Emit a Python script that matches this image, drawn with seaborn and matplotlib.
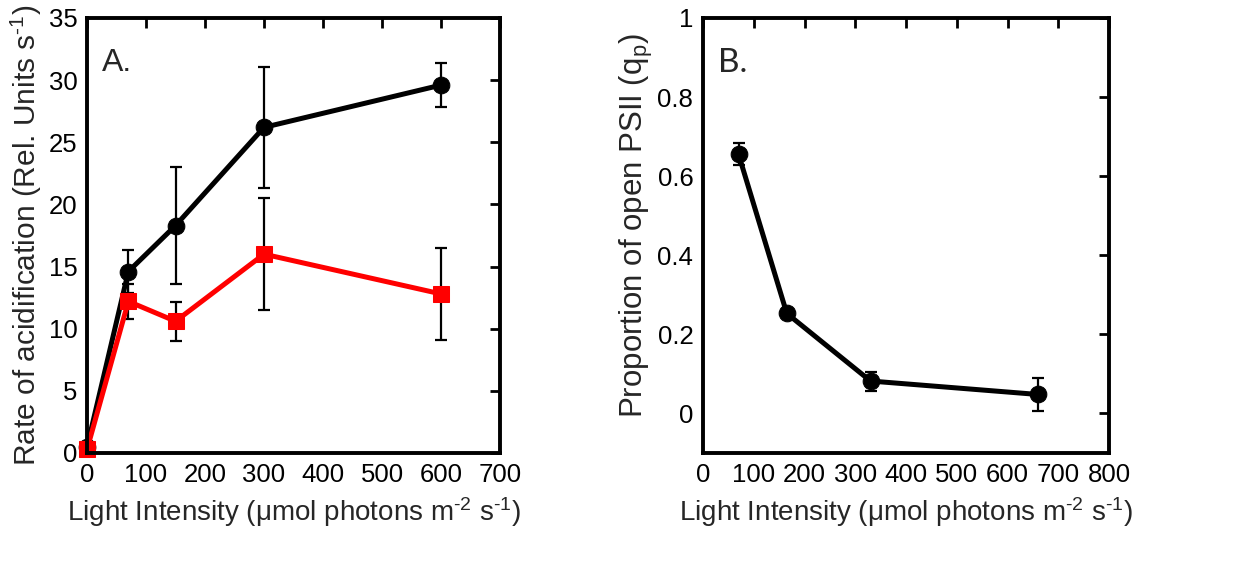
import numpy as np
import pandas as pd
import seaborn as sns
import matplotlib
matplotlib.use("Agg")
import matplotlib.pyplot as plt

# Panel A data
a_x = [0, 70, 150, 300, 600]
a_black = [0.5, 14.6, 18.3, 26.2, 29.6]
a_black_err = [0.0, 1.7, 4.7, 4.85, 1.75]
a_red = [0.3, 12.2, 10.6, 16.0, 12.8]
a_red_err = [0.0, 1.4, 1.55, 4.5, 3.7]

# Panel B data
b_x = [70, 165, 330, 660]
b_y = [0.655, 0.253, 0.082, 0.048]
b_err = [0.028, 0.010, 0.024, 0.041]

sns.set_theme(style="white")
plt.rcParams['font.family'] = ['Liberation Sans', 'DejaVu Sans']
plt.rcParams['mathtext.fontset'] = 'custom'
plt.rcParams['mathtext.rm'] = 'Liberation Sans'
plt.rcParams['mathtext.it'] = 'Liberation Sans'
plt.rcParams['mathtext.sf'] = 'Liberation Sans'

fig = plt.figure(figsize=(12.49, 5.88), dpi=100)
axA = fig.add_axes([0.0697, 0.2296, 0.3306, 0.7398])
axB = fig.add_axes([0.5629, 0.2296, 0.3250, 0.7398])

dfA = pd.DataFrame({"x": a_x + a_x, "y": a_black + a_red,
                    "s": ["black"] * len(a_x) + ["red"] * len(a_x)})

axA.errorbar(a_x, a_black, yerr=a_black_err, fmt='none', ecolor='black',
             elinewidth=1.6, capsize=4.5, capthick=1.6, zorder=2)
axA.errorbar(a_x, a_red, yerr=a_red_err, fmt='none', ecolor='black',
             elinewidth=1.6, capsize=4.5, capthick=1.6, zorder=2)
sns.lineplot(data=dfA[dfA.s == "black"], x="x", y="y", ax=axA, color='black',
             lw=3.6, marker='o', markersize=12, markeredgecolor='black', zorder=3,
             clip_on=False)
sns.lineplot(data=dfA[dfA.s == "red"], x="x", y="y", ax=axA, color='#ff0000',
             lw=3.6, marker='s', markersize=11.5, markeredgecolor='#ff0000', zorder=4,
             clip_on=False)

xlab = r"Light Intensity ($\mu$mol photons m$^{\text{-}2}$ s$^{\text{-}1}$)"
axA.set_xlim(0, 700)
axA.set_ylim(0, 35)
axA.set_xticks(range(0, 701, 100))
axA.set_yticks(range(0, 36, 5))
axA.set_xlabel(xlab, fontsize=20, labelpad=6)
axA.set_ylabel(r"Rate of acidification (Rel. Units s$^{\text{-}1}$)", fontsize=21.5, labelpad=3)
axA.text(0.036, 0.931, "A.", transform=axA.transAxes, fontsize=23, va='top', ha='left')

dfB = pd.DataFrame({"x": b_x, "y": b_y})
axB.errorbar(b_x, b_y, yerr=b_err, fmt='none', ecolor='black',
             elinewidth=1.6, capsize=4.5, capthick=1.6, zorder=2)
sns.lineplot(data=dfB, x="x", y="y", ax=axB, color='black', lw=3.6,
             marker='o', markersize=12, markeredgecolor='black', zorder=3)
axB.set_xlim(0, 800)
axB.set_ylim(-0.1, 1)
axB.set_xticks(range(0, 801, 100))
axB.set_yticks([0, 0.2, 0.4, 0.6, 0.8, 1])
axB.set_yticklabels(["0", "0.2", "0.4", "0.6", "0.8", "1"])
axB.set_xlabel(xlab, fontsize=20, labelpad=6)
axB.set_ylabel(r"Proportion of open PSII (q$_{\text{p}}$)", fontsize=22.5)
axB.yaxis.set_label_coords(-0.118, 0.522)
axB.text(0.037, 0.931, "B.", transform=axB.transAxes, fontsize=24, va='top', ha='left',
         family=['Lato', 'DejaVu Sans'])

for ax in (axA, axB):
    for sp in ax.spines.values():
        sp.set_linewidth(2.8)
        sp.set_color('black')
        sp.set_zorder(5)
    ax.tick_params(direction='in', length=7, width=2, top=True, right=True,
                   labelsize=18.5, colors='black', pad=7)
    ax.grid(False)

fig.savefig("out.png", dpi=100, facecolor='white')
